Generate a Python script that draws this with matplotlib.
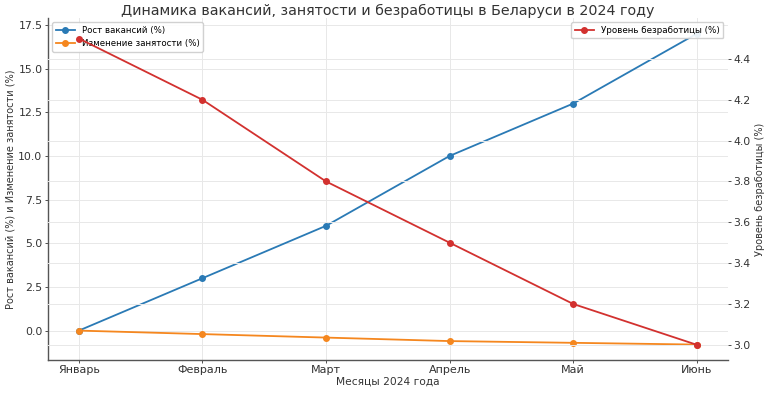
import matplotlib
matplotlib.use("Agg")
import matplotlib.pyplot as plt

# data
months = ["Январь", "Февраль", "Март", "Апрель", "Май", "Июнь"]
vacancy_growth = [0, 3, 6, 10, 13, 17]
employment_change = [0, -0.2, -0.4, -0.6, -0.7, -0.8]
unemployment = [4.5, 4.2, 3.8, 3.5, 3.2, 3.0]

plt.rcParams['font.family'] = ['DejaVu Sans']

fig = plt.figure(figsize=(7.68, 3.94), dpi=100)
ax1 = fig.add_axes([0.0625, 0.086, 0.885, 0.868])
x = range(len(months))

ax1.plot(x, vacancy_growth, marker='o', markersize=4, lw=1.3, color='#2a7ab5', label='Рост вакансий (%)')
ax1.plot(x, employment_change, marker='o', markersize=4, lw=1.3, color='#f5871f', label='Изменение занятости (%)')
ax1.set_xticks(list(x))
ax1.set_xticklabels(months)
ax1.set_xlabel("Месяцы 2024 года", fontsize=7.7, color='#333333', labelpad=1)
ax1.set_ylabel("Рост вакансий (%) и Изменение занятости (%)", fontsize=7.0, color='#333333', labelpad=2)
ax1.grid(True, color='#e8e8e8', lw=0.7)
ax1.tick_params(axis='x', labelsize=8, colors='#333333', length=2, width=0.6, pad=1.5)
ax1.tick_params(axis='y', labelsize=7.8, colors='#333333', length=2, width=0.6, pad=2)
ax1.set_yticks([0, 2.5, 5, 7.5, 10, 12.5, 15, 17.5])
ax1.set_ylim(-1.69, 17.89)
for s in ['top', 'right']:
    ax1.spines[s].set_visible(False)
for s in ['left', 'bottom']:
    ax1.spines[s].set_color('#555555')
    ax1.spines[s].set_linewidth(1.0)

ax2 = ax1.twinx()
ax2.plot(x, unemployment, marker='o', markersize=4, lw=1.3, color='#d2312f', label='Уровень безработицы (%)')
ax2.set_ylabel("Уровень безработицы (%)", fontsize=7.0, color='#333333', labelpad=3)
ax2.set_ylim(2.925, 4.6)
ax2.set_yticks([3.0, 3.2, 3.4, 3.6, 3.8, 4.0, 4.2, 4.4])
ax2.grid(True, color='#e8e8e8', lw=0.7)
ax2.tick_params(labelsize=7.8, colors='#333333', length=2, width=0.6, pad=2)
for s in ['top', 'right', 'left', 'bottom']:
    ax2.spines[s].set_visible(False)

ax1.set_title("Динамика вакансий, занятости и безработицы в Беларуси в 2024 году", fontsize=10.3, color='#333333', pad=0)
ax1.legend(loc='upper left', fontsize=6.2, framealpha=0.9, borderpad=0.4, handlelength=2.2)
ax2.legend(loc='upper right', fontsize=6.3, framealpha=0.9, borderpad=0.4, handlelength=2.2)

fig.savefig("out.png", dpi=100)
